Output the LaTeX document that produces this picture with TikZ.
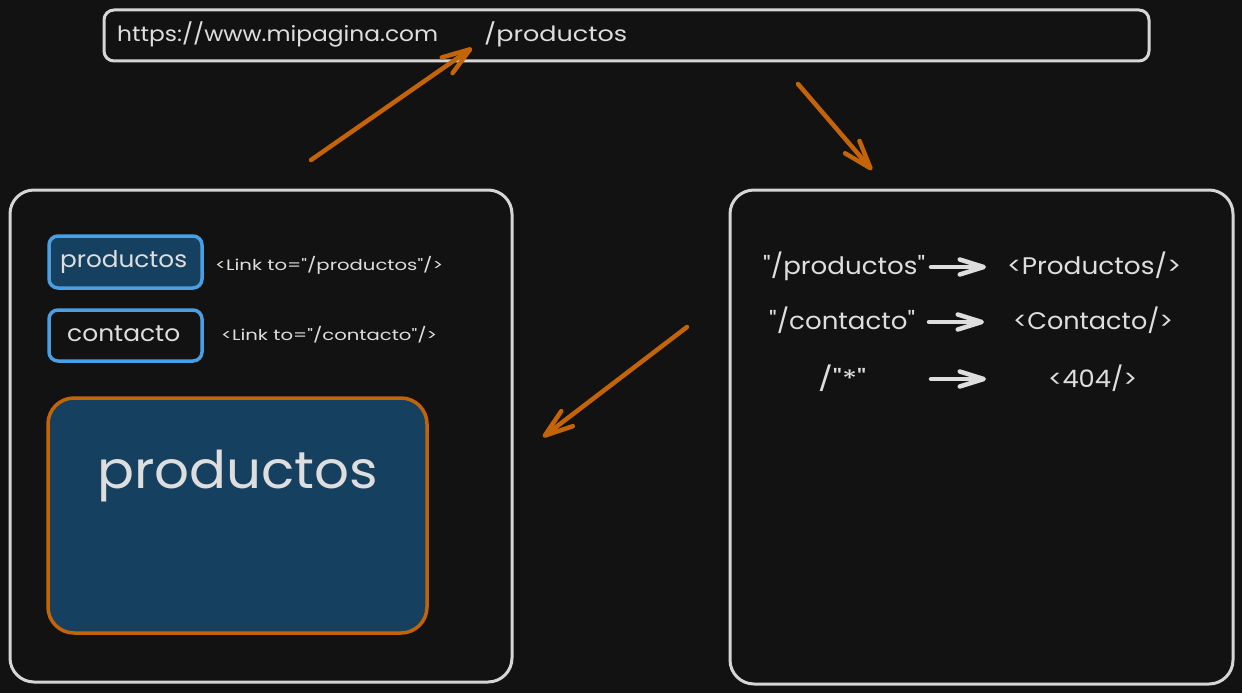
\documentclass[tikz,border=0pt]{standalone}
\usepackage{fontspec}
\usepackage{graphicx}
\newfontfamily\hand{Poppins}
\usetikzlibrary{arrows.meta}
\definecolor{bg}{HTML}{121212}
\definecolor{fg}{HTML}{DEDEDE}
\definecolor{edge}{HTML}{D6D6D6}
\definecolor{accent}{HTML}{C46408}
\definecolor{btnblue}{HTML}{4A9FE3}
\definecolor{navy}{HTML}{16405F}
\newcommand\fitw[2]{\resizebox{#1}{\height}{#2}}
\newcommand\fs[1]{\hand\fontsize{#1}{#1}\selectfont}
\tikzset{
  txt/.style={inner sep=0pt, text=fg, anchor=base west},
  panel/.style={draw=edge, line width=3pt, rounded corners=24pt},
  urlbar/.style={draw=edge, line width=3pt, rounded corners=10pt},
  btn/.style={draw=btnblue, line width=3.5pt, rounded corners=9pt},
  bigbox/.style={draw=accent, fill=navy, line width=3.5pt, rounded corners=26pt},
  oarrow/.style={draw=accent, line width=4.5pt, line cap=round,
    -{Straight Barb[length=28pt,width=19pt,line cap=round,line join=round]}},
  warrow/.style={draw=fg, line width=4.5pt, line cap=round,
    -{Straight Barb[length=24pt,width=15pt,line cap=round,line join=round]}}
}
\begin{document}
\begin{tikzpicture}[x=1pt,y=-1pt]
\fill[bg] (0,0) rectangle (1242,693);
\useasboundingbox (0,0) rectangle (1242,693);

% URL bar
\draw[urlbar] (104,10) rectangle (1149,61);
\node[txt, font=\fs{21}] (url) at (117,42) {\fitw{321pt}{https://www.mipagina.com}};
\node[txt, font=\fs{21}] (path) at (484,42) {\fitw{143pt}{/productos}};

% left panel
\draw[panel] (10,190) rectangle (512,682);
\draw[btn, fill=navy] (49,236) rectangle (202,288);
\node[txt, font=\fs{23}] (bprod) at (60,267) {\fitw{127pt}{productos}};
\node[txt, font=\fs{15}] (lprod) at (215,270) {\fitw{228pt}{<Link to="/productos"/>}};
\draw[btn] (49,310) rectangle (202,361);
\node[txt, font=\fs{23}] (bcont) at (67,341) {\fitw{113pt}{contacto}};
\node[txt, font=\fs{15}] (lcont) at (221,340) {\fitw{216pt}{<Link to="/contacto"/>}};
\draw[bigbox] (48,398) rectangle (427,633);
\node[txt, font=\fs{52}] (big) at (97,488) {\fitw{281pt}{productos}};

% right panel
\draw[panel] (730,190) rectangle (1233,684);
\node[txt, font=\fs{24}] (r1a) at (763,274) {\fitw{162pt}{"/productos"}};
\node[txt, font=\fs{24}] (r1b) at (1007,274) {\fitw{174pt}{<Productos/>}};
\node[txt, font=\fs{24}] (r2a) at (769,329) {\fitw{146pt}{"/contacto"}};
\node[txt, font=\fs{24}] (r2b) at (1013,329) {\fitw{160pt}{<Contacto/>}};
\node[txt, font=\fs{24}] (r3a) at (818,387) {\fitw{48pt}{/"*"}};
\node[txt, font=\fs{24}] (r3b) at (1048,387) {\fitw{89pt}{<404/>}};

\coordinate (w1s) at (931,267); \coordinate (w1e) at (986,267);
\coordinate (w2s) at (929,322); \coordinate (w2e) at (984,322);
\coordinate (w3s) at (931,379); \coordinate (w3e) at (986,379);
\draw[warrow] (w1s) -- (w1e);
\draw[warrow] (w2s) -- (w2e);
\draw[warrow] (w3s) -- (w3e);

% orange arrows
\coordinate (a1s) at (311,160); \coordinate (a1e) at (472,48);
\coordinate (a2s) at (798,84);  \coordinate (a2e) at (872,170);
\coordinate (a3s) at (687,327); \coordinate (a3e) at (543,437);
\draw[oarrow] (a1s) -- (a1e);
\draw[oarrow] (a2s) -- (a2e);
\draw[oarrow] (a3s) -- (a3e);
\end{tikzpicture}
\end{document}
